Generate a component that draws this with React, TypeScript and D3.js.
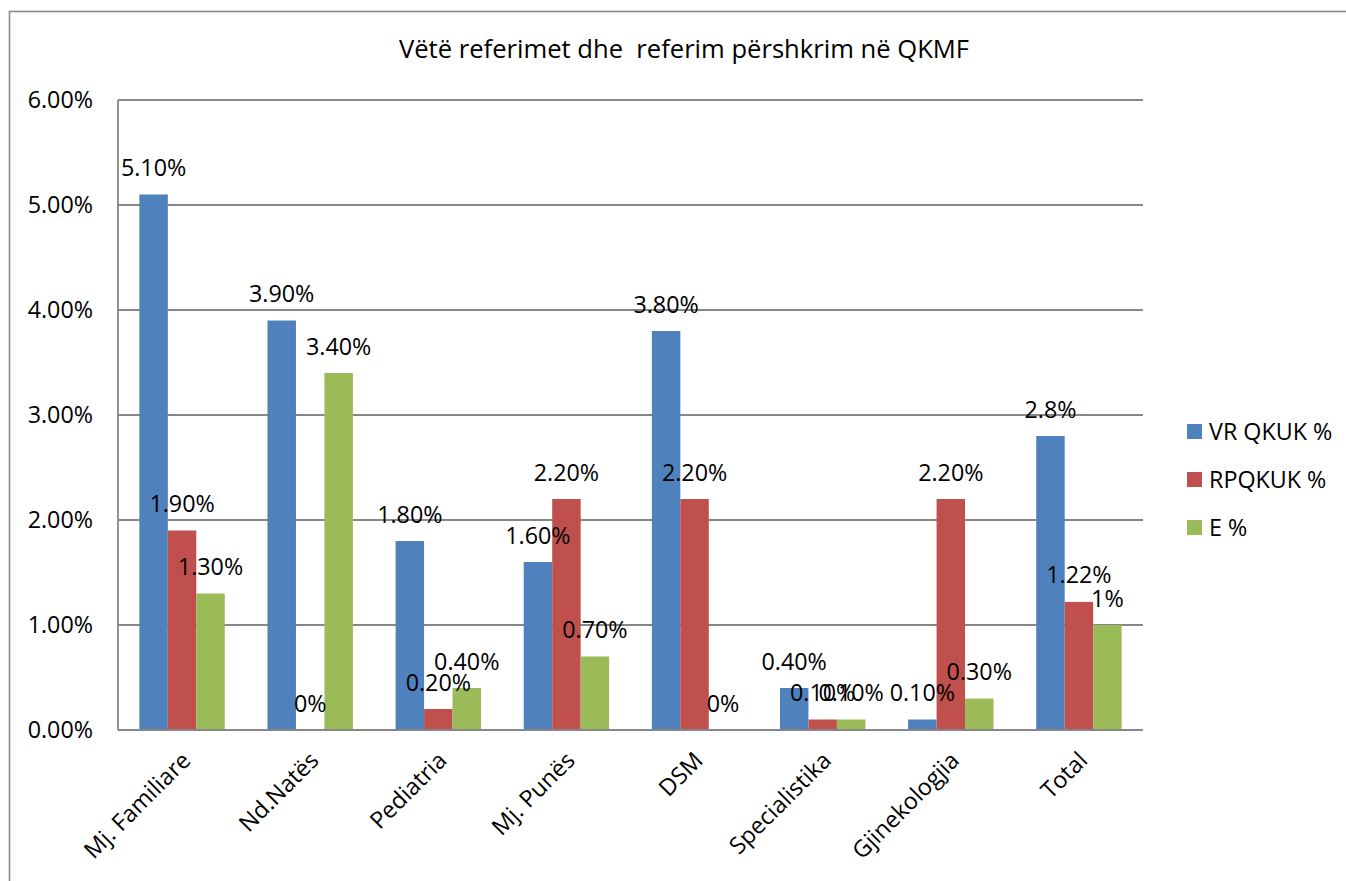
import React from "react";
import * as d3 from "d3";

const categories = ["Mj. Familiare", "Nd.Natës", "Pediatria", "Mj. Punës", "DSM", "Specialistika", "Gjinekologjia", "Total"];
const seriesNames = ["VR QKUK %", "RPQKUK %", "E %"];
const vrValues = [5.1, 3.9, 1.8, 1.6, 3.8, 0.4, 0.1, 2.8];
const rpValues = [1.9, 0, 0.2, 2.2, 2.2, 0.1, 2.2, 1.22];
const eValues = [1.3, 3.4, 0.4, 0.7, 0, 0.1, 0.3, 1.0];
const vrLabels = ["5.10%", "3.90%", "1.80%", "1.60%", "3.80%", "0.40%", "0.10%", "2.8%"];
const rpLabels = ["1.90%", "0%", "0.20%", "2.20%", "2.20%", "0.10%", "2.20%", "1.22%"];
const eLabels = ["1.30%", "3.40%", "0.40%", "0.70%", "0%", "0.10%", "0.30%", "1%"];
const yTicks = [0, 1, 2, 3, 4, 5, 6];
const yTickLabels = ["0.00%", "1.00%", "2.00%", "3.00%", "4.00%", "5.00%", "6.00%"];
const colors = ["#4F81BD", "#C0504D", "#9BBB59"];
const title = "Vëtë referimet dhe  referim përshkrim në QKMF";

const seriesValues = [vrValues, rpValues, eValues];
const seriesLabels = [vrLabels, rpLabels, eLabels];

const FONT = "'Open Sans', 'Liberation Sans', sans-serif";
const FS = 23.3;

export default function App() {
  const W = 1346, H = 881;
  const left = 118, right = 1143, top = 100, bottom = 730;
  const x = d3.scaleBand<string>().domain(categories).range([left, right]).padding(0);
  const bw = x.bandwidth();
  const xs = d3.scaleBand<string>().domain(seriesNames).range([bw / 6, (bw * 5) / 6]).padding(0);
  const y = d3.scaleLinear().domain([0, 6]).range([bottom, top]);
  const grid = "#878787";

  return (
    <svg width={W} height={H} style={{ position: "absolute", left: 0, top: 0, background: "#fff" }} fontFamily={FONT}>
      <rect x={0} y={0} width={W} height={H} fill="#fff" />
      <rect x={9.5} y={11.5} width={1400} height={1000} fill="none" stroke="#8a8a8a" strokeWidth={1.6} />
      <text x={684} y={58} textAnchor="middle" fontSize={25.6} fill="#000" style={{ whiteSpace: "pre" }}>{title}</text>

      {yTicks.map((t, i) => (
        <g key={t}>
          {t > 0 && <line x1={left} x2={right} y1={y(t)} y2={y(t)} stroke={grid} strokeWidth={1.8} />}
          <text x={93} y={y(t)} dy="0.36em" textAnchor="end" fontSize={FS} fill="#000">{yTickLabels[i]}</text>
        </g>
      ))}

      {seriesNames.map((s, si) => (
        <g key={s}>
          {categories.map((c, ci) => {
            const v = seriesValues[si][ci];
            const bx = (x(c) as number) + (xs(s) as number);
            return (
              <rect key={c} x={bx} y={y(v)} width={xs.bandwidth()} height={bottom - y(v)} fill={colors[si]} />
            );
          })}
        </g>
      ))}

      <line x1={left} x2={left} y1={top} y2={bottom} stroke={grid} strokeWidth={1.8} />
      <line x1={left} x2={right} y1={bottom} y2={bottom} stroke={grid} strokeWidth={1.8} />

      {seriesNames.map((s, si) => (
        <g key={s + "l"}>
          {categories.map((c, ci) => {
            const v = seriesValues[si][ci];
            const cx = (x(c) as number) + (xs(s) as number) + xs.bandwidth() / 2;
            return (
              <text key={c} x={cx} y={y(v) - 18.5} textAnchor="middle" fontSize={FS} fill="#000">{seriesLabels[si][ci]}</text>
            );
          })}
        </g>
      ))}

      {categories.map((c) => {
        const cx = (x(c) as number) + bw / 2;
        return (
          <text key={c} transform={`translate(${cx - 2},${750}) rotate(-45)`} textAnchor="end" dy="0.72em" fontSize={FS} fill="#000">{c}</text>
        );
      })}

      {seriesNames.map((s, si) => (
        <g key={s + "leg"} transform={`translate(1187,${424 + si * 48})`}>
          <rect x={0} y={0} width={15} height={15} fill={colors[si]} />
          <text x={22} y={16} fontSize={FS} fill="#000">{s}</text>
        </g>
      ))}
    </svg>
  );
}
